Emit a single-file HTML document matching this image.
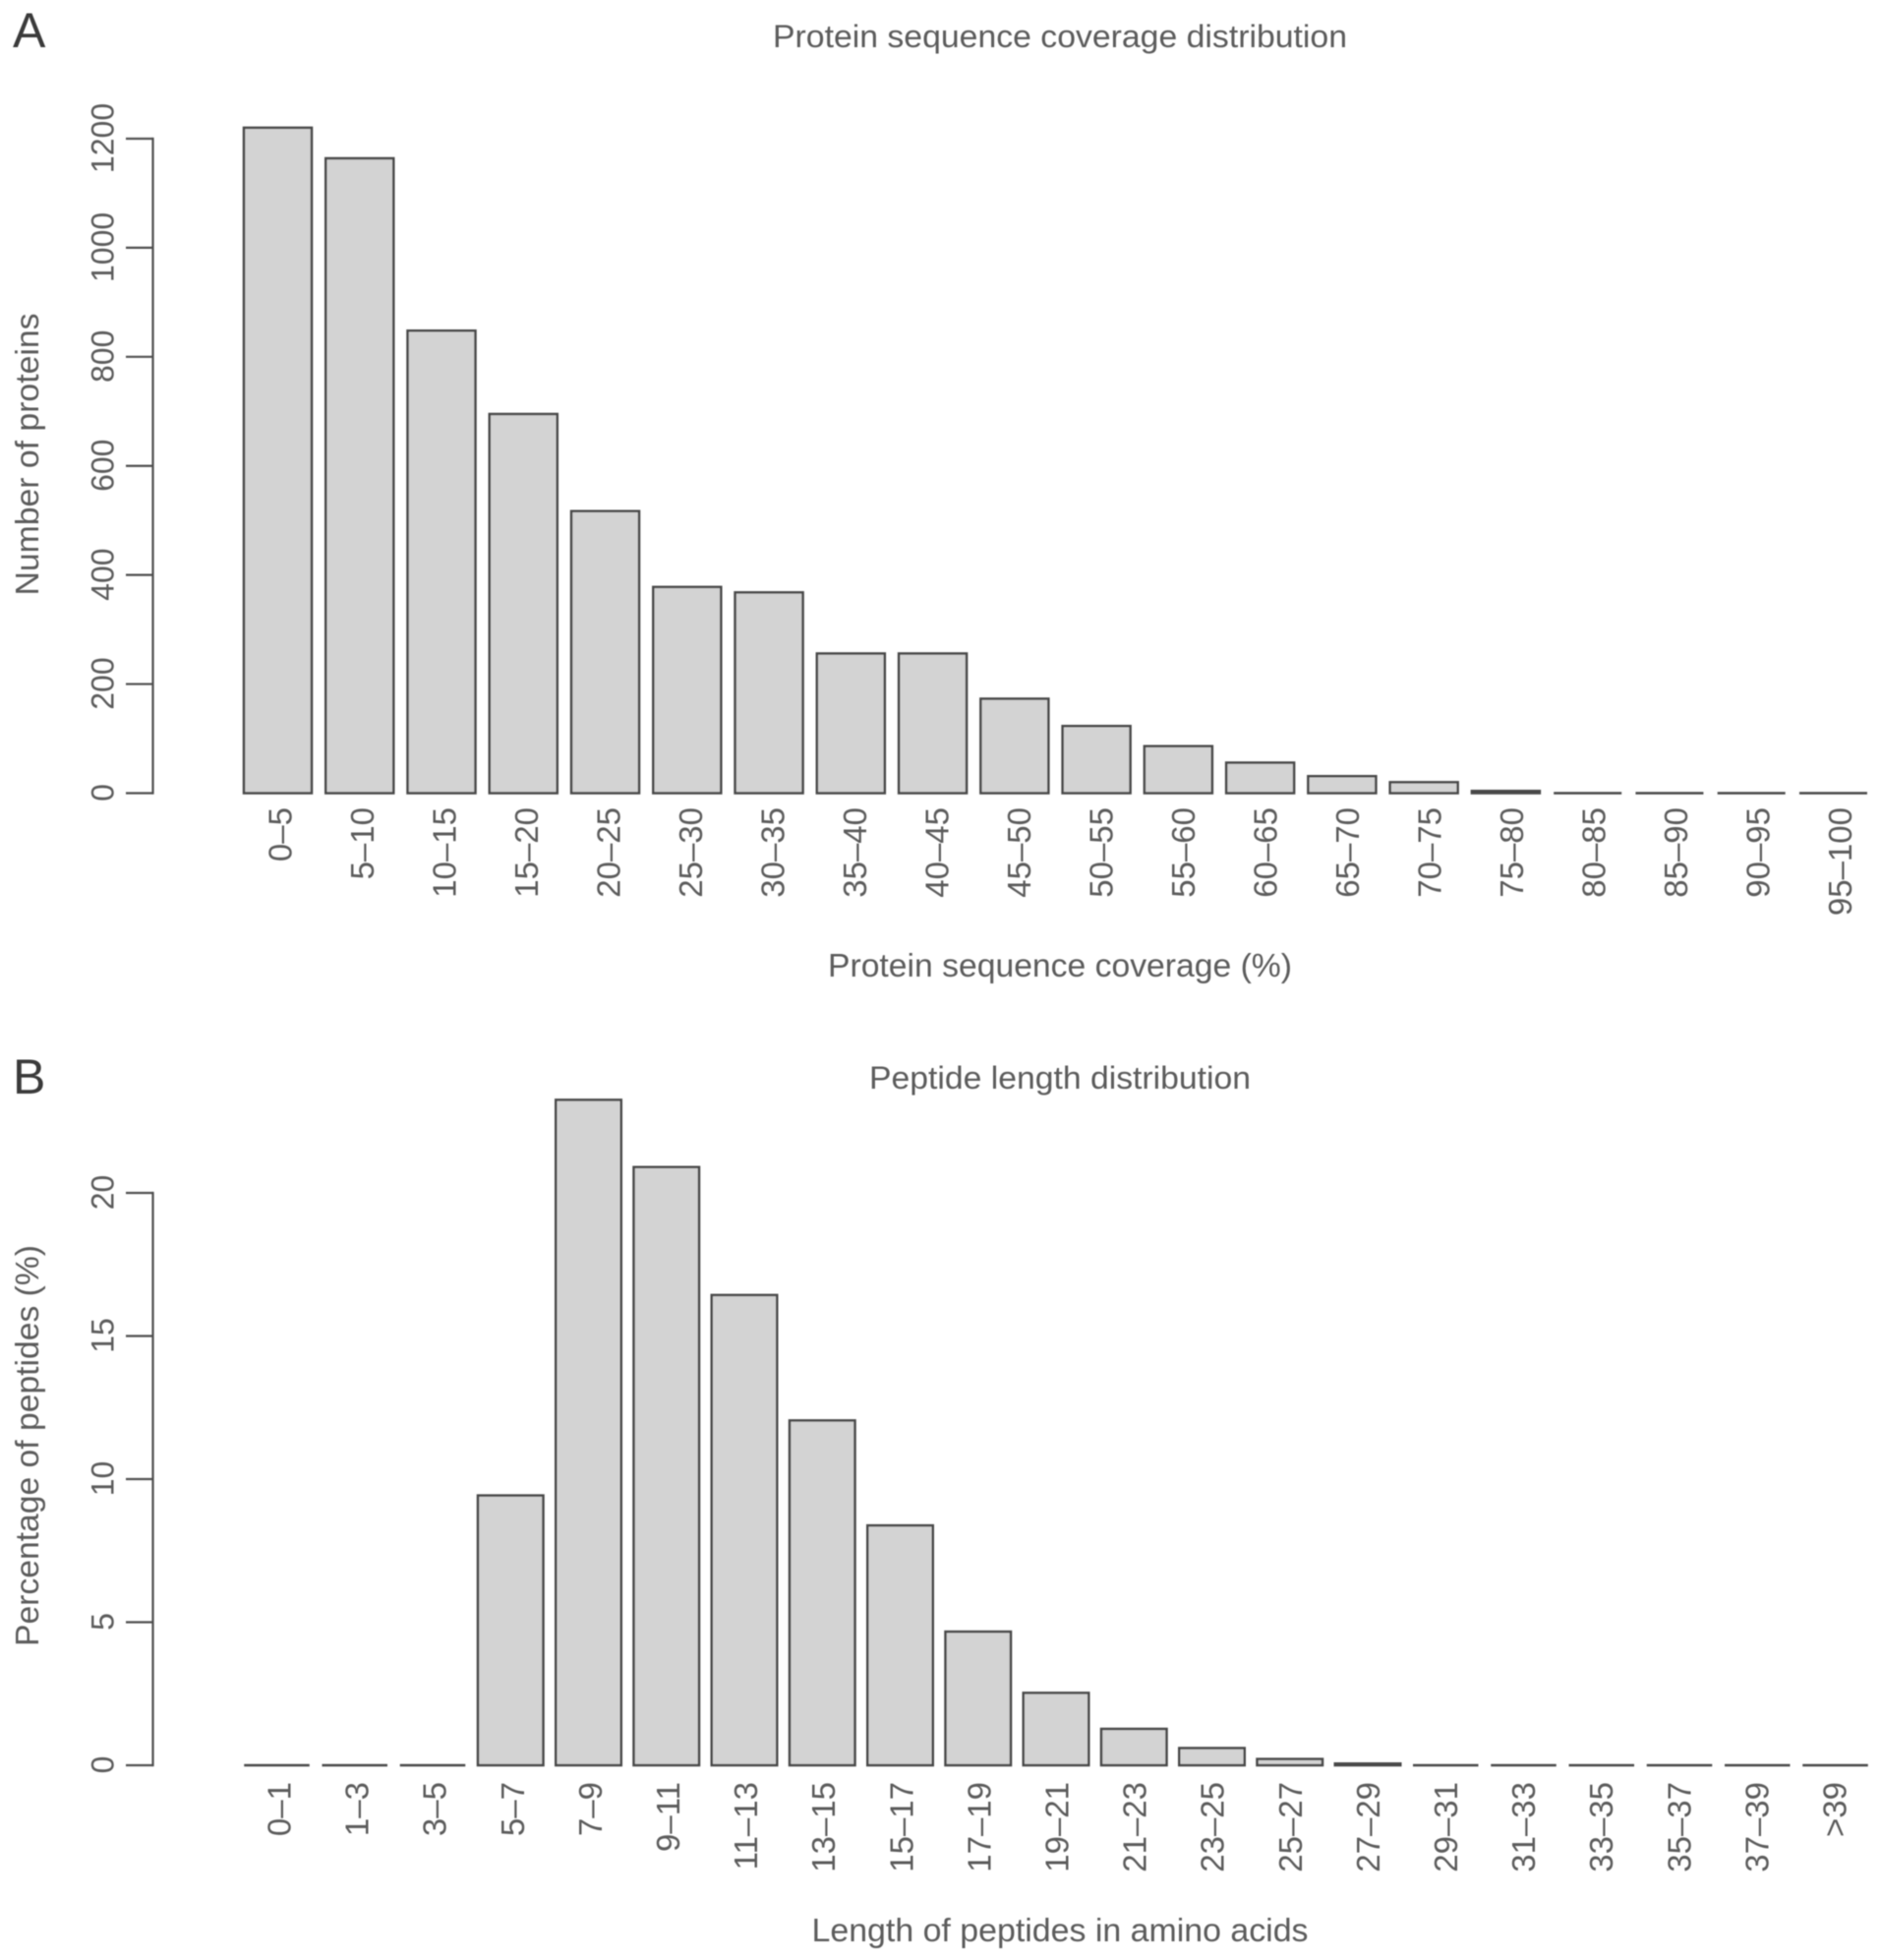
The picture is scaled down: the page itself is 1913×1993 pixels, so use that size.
<!DOCTYPE html>
<html lang="en">
<head>
<meta charset="utf-8">
<title>Protein sequence coverage and peptide length distributions</title>
<style>
  html, body { margin: 0; padding: 0; background: #fff; }
  svg { display: block; }
  text { font-family: "Liberation Sans", sans-serif; fill: #5c5c5c; }
</style>
</head>
<body>
<svg id="figure" xmlns="http://www.w3.org/2000/svg" width="1913" height="1993" viewBox="0 0 1913 1993">
  <defs>
    <filter id="soft" x="-2%" y="-2%" width="104%" height="104%">
      <feGaussianBlur stdDeviation="0.55"/>
    </filter>
  </defs>
  <rect width="1913" height="1993" fill="#fff"/>
  <g id="root" filter="url(#soft)">
    <text x="13" y="48" font-size="50" style="fill:#3a3a3a">A</text>
    <text x="13" y="1112" font-size="50" style="fill:#3a3a3a">B</text>
    <text x="1078" y="48" font-size="32" text-anchor="middle" textLength="584" lengthAdjust="spacingAndGlyphs">Protein sequence coverage distribution</text>
    <text x="1078" y="993" font-size="33" text-anchor="middle" textLength="472" lengthAdjust="spacingAndGlyphs">Protein sequence coverage (%)</text>
    <text transform="translate(39 462) rotate(-90)" font-size="33" text-anchor="middle" textLength="287" lengthAdjust="spacingAndGlyphs">Number of proteins</text>
    <text x="1078" y="1107" font-size="32" text-anchor="middle" textLength="388" lengthAdjust="spacingAndGlyphs">Peptide length distribution</text>
    <text x="1078" y="1974" font-size="33" text-anchor="middle" textLength="505" lengthAdjust="spacingAndGlyphs">Length of peptides in amino acids</text>
    <text transform="translate(39 1470) rotate(-90)" font-size="33" text-anchor="middle" textLength="408" lengthAdjust="spacingAndGlyphs">Percentage of peptides (%)</text>
  </g>
</svg>
<script>
const coverageCategories = ["0–5","5–10","10–15","15–20","20–25","25–30","30–35","35–40","40–45","45–50","50–55","55–60","60–65","65–70","70–75","75–80","80–85","85–90","90–95","95–100"];
const coverageValues = [1220,1164,848,695,517,378,368,256,256,173,123,86,56,31,20,4,0,0,0,0];
const coverageTicks = [0,200,400,600,800,1000,1200];

const lengthCategories = ["0–1","1–3","3–5","5–7","7–9","9–11","11–13","13–15","15–17","17–19","19–21","21–23","23–25","25–27","27–29","29–31","31–33","33–35","35–37","37–39",">39"];
const lengthValues = [0,0,0,9.43,23.25,20.9,16.43,12.05,8.38,4.67,2.53,1.27,0.6,0.22,0.06,0,0,0,0,0,0];
const lengthTicks = [0,5,10,15,20];

const NS = "http://www.w3.org/2000/svg";
const root = document.getElementById("root");

function make(tag, attrs, parent) {
  const el = document.createElementNS(NS, tag);
  for (const k in attrs) el.setAttribute(k, attrs[k]);
  parent.appendChild(el);
  return el;
}

function drawChart(prefix, cfg) {
  const yScale = v => cfg.y0 - v * cfg.pxPerUnit;
  const xCenter = i => cfg.firstCenter + i * cfg.pitch;
  const labelX = i => cfg.labelFirst + i * cfg.labelPitch;

  const group = make("g", {}, root);
  
  

  const maxTick = cfg.ticks[cfg.ticks.length - 1];
  const axis = make("path", {
    d: "M155.5 " + (yScale(0) + 1.1) + "V" + (yScale(maxTick) - 1.1),
    fill: "none", stroke: "#4f4f4f", "stroke-width": 2.2
  }, group);
  
  

  cfg.ticks.forEach(t => {
    const tick = make("line", {
      x1: 128, x2: 155.5, y1: yScale(t), y2: yScale(t),
      stroke: "#4f4f4f", "stroke-width": 2.2
    }, group);
    
    

    const label = make("text", {
      transform: "translate(115.5 " + (yScale(t) - 0.5) + ") rotate(-90)",
      "font-size": 32, "text-anchor": "middle"
    }, group);
    label.textContent = String(t);
    
    
  });

  cfg.values.forEach((v, i) => {
    const cx = xCenter(i);
    const top = yScale(v);
    const half = cfg.barWidth / 2;
    const bar = make("path", {
      d: "M" + (cx - half) + " " + cfg.y0 + "V" + top + "H" + (cx + half) + "V" + cfg.y0 + "Z",
      fill: "#d3d3d3", stroke: "#484848", "stroke-width": 2.5
    }, group);
    
    

    const label = make("text", {
      transform: "translate(" + labelX(i) + " " + cfg.labelTop + ") rotate(-90)",
      "font-size": 33, "text-anchor": "end"
    }, group);
    label.textContent = cfg.categories[i];
    
    
  });
}

drawChart("chart-a", {
  categories: coverageCategories, values: coverageValues, ticks: coverageTicks,
  y0: 806.5, pxPerUnit: 0.5546, firstCenter: 282.5, pitch: 83.26, barWidth: 69,
  labelFirst: 296.5, labelPitch: 83.5, labelTop: 821
});

drawChart("chart-b", {
  categories: lengthCategories, values: lengthValues, ticks: lengthTicks,
  y0: 1795, pxPerUnit: 29.1, firstCenter: 281.5, pitch: 79.25, barWidth: 66.5,
  labelFirst: 295.5, labelPitch: 79.1, labelTop: 1812
});
</script>
</body>
</html>
